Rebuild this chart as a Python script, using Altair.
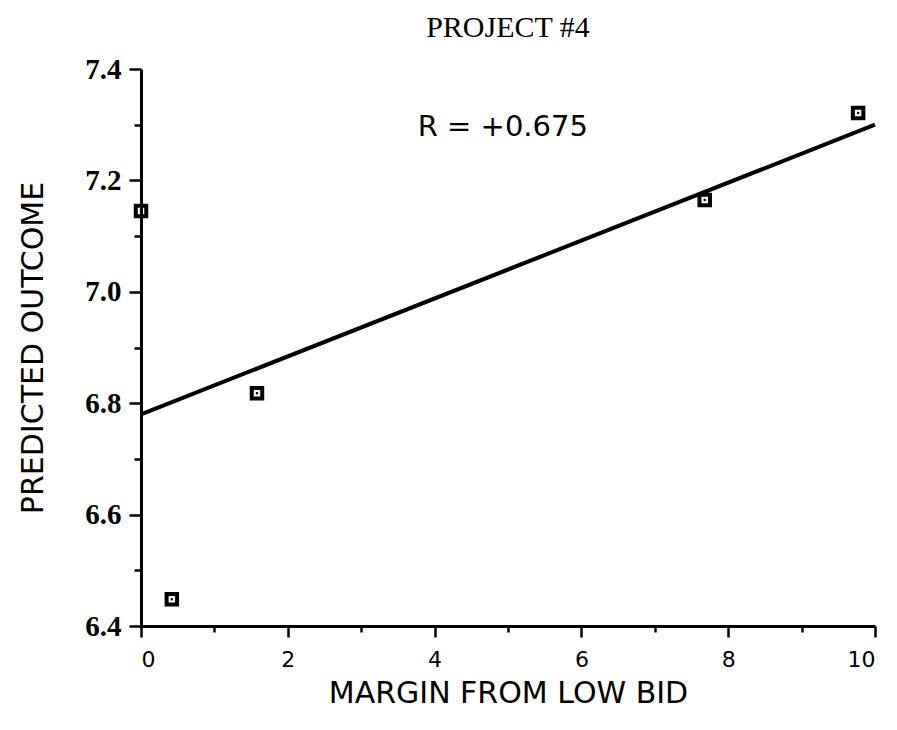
import altair as alt
import pandas as pd

# Observed projects: margin from low bid vs. predicted outcome
margin = [0.0, 0.42, 1.58, 7.68, 9.77]
outcome = [7.145, 6.448, 6.818, 7.165, 7.321]

# Least-squares fit line end points
fit_margin = [0.0, 10.0]
fit_outcome = [6.78, 7.30]

# Correlation annotation
r_label = ["R = +0.675"]
r_x = [3.77]
r_y = [7.296]

# Axis tick values (majors get labels, minors are short unlabeled ticks)
x_ticks = [0, 1, 2, 3, 4, 5, 6, 7, 8, 9, 10]
y_ticks = [6.4, 6.5, 6.6, 6.7, 6.8, 6.9, 7.0, 7.1, 7.2, 7.3, 7.4]

points = pd.DataFrame({"margin": margin, "outcome": outcome})
fit = pd.DataFrame({"margin": fit_margin, "outcome": fit_outcome})
note = pd.DataFrame({"margin": r_x, "outcome": r_y, "label": r_label})

SANS = "DejaVu Sans"
SERIF = "Liberation Serif"

x_scale = alt.Scale(domain=[0, 10], nice=False, zero=False)
y_scale = alt.Scale(domain=[6.4, 7.4], nice=False, zero=False)

x_axis = alt.Axis(
    title="MARGIN FROM LOW BID",
    values=x_ticks,
    format="d",
    labelExpr="datum.value % 2 == 0 ? datum.label : ''",
    tickSize={"condition": {"test": "datum.value % 2 == 0", "value": 11}, "value": 6},
    grid=False,
    domainColor="black",
    domainWidth=3,
    tickColor="black",
    tickWidth=2.5,
    labelFont=SANS,
    labelFontSize=22,
    labelColor="black",
    labelPadding=12,
    titleFont=SANS,
    titleFontSize=30,
    titleFontWeight="normal",
    titleColor="black",
    titlePadding=8,
)

y_axis = alt.Axis(
    title="PREDICTED OUTCOME",
    values=y_ticks,
    format=".1f",
    labelExpr="round(datum.value * 10) % 2 == 0 ? datum.label : ''",
    tickSize={"condition": {"test": "round(datum.value * 10) % 2 == 0", "value": 12}, "value": 7},
    grid=False,
    domainColor="black",
    domainWidth=3,
    tickColor="black",
    tickWidth=2.5,
    labelFont=SERIF,
    labelFontSize=29,
    labelFontWeight="bold",
    labelColor="black",
    labelPadding=8,
    titleFont=SANS,
    titleFontSize=30,
    titleFontWeight="normal",
    titleColor="black",
    titlePadding=36,
)

base = alt.Chart(points)

line = alt.Chart(fit).mark_line(color="black", strokeWidth=4).encode(
    x=alt.X("margin:Q", scale=x_scale, axis=x_axis),
    y=alt.Y("outcome:Q", scale=y_scale, axis=y_axis),
)

boxes = base.mark_point(
    shape="square", filled=False, size=110, strokeWidth=4, color="black", opacity=1
).encode(x="margin:Q", y="outcome:Q")

dots = base.mark_point(
    shape="square", filled=True, size=5, color="black", opacity=1
).encode(x="margin:Q", y="outcome:Q")

text = alt.Chart(note).mark_text(
    align="left", baseline="middle", font=SANS, fontSize=29, color="black"
).encode(x="margin:Q", y="outcome:Q", text="label:N")

chart = (
    alt.layer(line, boxes, dots, text)
    .properties(
        width=734,
        height=557,
        title=alt.TitleParams(
            "PROJECT #4",
            font=SERIF,
            fontSize=30,
            fontWeight="normal",
            color="black",
            anchor="middle",
            offset=12,
        ),
        autosize=alt.AutoSizeParams(type="none"),
        padding={"left": 141, "top": 69, "right": 22, "bottom": 104},
    )
    .configure(background="white")
    .configure_view(stroke=None, strokeWidth=0)
)

chart.save("out.html", embed_options={"renderer": "svg", "actions": False})
